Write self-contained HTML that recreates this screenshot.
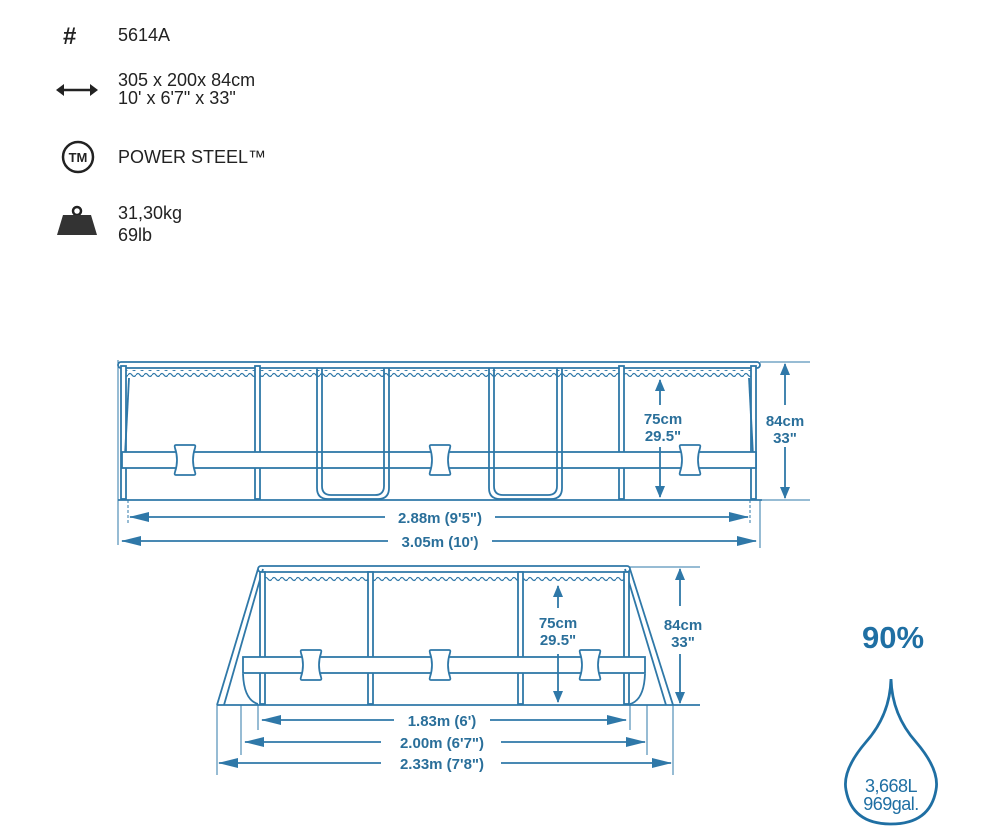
<!DOCTYPE html>
<html><head><meta charset="utf-8"><style>
body{margin:0;background:#fff;width:993px;height:839px;overflow:hidden}
svg{display:block}
.t{font-family:"Liberation Sans",sans-serif;fill:#222;font-size:18px}
.b{font-family:"Liberation Sans",sans-serif;font-weight:bold;fill:#2a6f9a;font-size:15px;text-anchor:middle}
</style></head><body>
<svg width="993" height="839" viewBox="0 0 993 839">
<defs>
<pattern id="wv" x="0" y="0" width="8" height="6" patternUnits="userSpaceOnUse">
<path d="M0 3 Q2 0 4 3 T8 3" fill="none" stroke="#2f78a8" stroke-width="1.2"/>
</pattern>
<marker id="ar" markerWidth="12" markerHeight="10" refX="11" refY="5" orient="auto" markerUnits="userSpaceOnUse"><path d="M0 0 L12 5 L0 10Z" fill="#2f78a8"/></marker>
<marker id="al" markerWidth="12" markerHeight="10" refX="1" refY="5" orient="auto" markerUnits="userSpaceOnUse"><path d="M12 0 L0 5 L12 10Z" fill="#2f78a8"/></marker>
<marker id="hr" markerWidth="20" markerHeight="10" refX="19" refY="5" orient="auto" markerUnits="userSpaceOnUse"><path d="M0 0 L20 5 L0 10Z" fill="#2f78a8"/></marker>
<marker id="hl" markerWidth="20" markerHeight="10" refX="1" refY="5" orient="auto" markerUnits="userSpaceOnUse"><path d="M20 0 L0 5 L20 10Z" fill="#2f78a8"/></marker>
<g id="bone"><path d="M-9 -15 H9 Q11 -15 10 -12 Q6 0 10 12 Q11 15 9 15 H-9 Q-11 15 -10 12 Q-6 0 -10 -12 Q-11 -15 -9 -15Z" fill="#fff" stroke="#2f78a8" stroke-width="1.8"/></g>
</defs>

<!-- header -->
<text x="63" y="44" style="font-family:'Liberation Sans',sans-serif;font-weight:bold;font-size:24px;fill:#222">#</text>
<text class="t" x="118" y="41">5614A</text>
<line x1="60" y1="90" x2="94" y2="90" stroke="#222" stroke-width="2.5"/>
<path d="M56 90 L64 84 L64 96Z M98 90 L90 84 L90 96Z" fill="#222"/>
<text class="t" x="118" y="86">305 x 200x 84cm</text>
<text class="t" x="118" y="104">10' x 6'7" x 33"</text>
<circle cx="78" cy="157" r="15" fill="none" stroke="#222" stroke-width="2.5"/>
<text x="78" y="162" text-anchor="middle" style="font-family:'Liberation Sans',sans-serif;font-weight:bold;font-size:13px;fill:#222">TM</text>
<text class="t" x="118" y="163">POWER STEEL™</text>
<circle cx="77" cy="211" r="4" fill="none" stroke="#222" stroke-width="2.5"/>
<path d="M63 215 H91 L97 235 H57Z" fill="#333"/>
<text class="t" x="118" y="219">31,30kg</text>
<text class="t" x="118" y="241">69lb</text>

<g stroke="#2f78a8" stroke-width="1.8" fill="none">
<!-- TOP POOL -->
<rect x="122" y="370" width="632" height="7" fill="url(#wv)" stroke="none"/>
<rect x="118" y="362" width="642" height="6" rx="3" fill="#fff"/>
<line x1="118" y1="500" x2="762" y2="500"/>
<line x1="118" y1="360" x2="118" y2="545" stroke-width="1"/>
<line x1="760" y1="362" x2="810" y2="362" stroke-width="1"/>
<line x1="760" y1="500" x2="810" y2="500" stroke-width="1"/>
<line x1="760" y1="500" x2="760" y2="548" stroke-width="1"/>
<line x1="128" y1="500" x2="128" y2="525" stroke-width="1" stroke-dasharray="3 2"/>
<line x1="750" y1="500" x2="750" y2="525" stroke-width="1" stroke-dasharray="3 2"/>
<rect x="121" y="366" width="5" height="133" fill="#fff"/>
<rect x="751" y="366" width="5" height="133" fill="#fff"/>
<rect x="255" y="366" width="5" height="133" fill="#fff"/>
<rect x="619" y="366" width="5" height="133" fill="#fff"/>
<line x1="129" y1="378" x2="125" y2="455"/>
<line x1="749" y1="378" x2="753" y2="455"/>
<rect x="122" y="452" width="634" height="16" fill="#fff"/>
<use href="#bone" x="185" y="460"/>
<use href="#bone" x="440" y="460"/>
<use href="#bone" x="690" y="460"/>
<path d="M317 368 V488 Q317 499 328 499 H378 Q389 499 389 488 V368" />
<path d="M322 368 V486 Q322 495 331 495 H375 Q384 495 384 486 V368" />
<path d="M489 368 V488 Q489 499 500 499 H551 Q562 499 562 488 V368" />
<path d="M494 368 V486 Q494 495 503 495 H548 Q557 495 557 486 V368" />
<line x1="660" y1="380" x2="660" y2="405" marker-start="url(#al)"/>
<line x1="660" y1="447" x2="660" y2="497" marker-end="url(#ar)"/>
<line x1="785" y1="364" x2="785" y2="405" marker-start="url(#al)"/>
<line x1="785" y1="447" x2="785" y2="498" marker-end="url(#ar)"/>
<line x1="130" y1="517" x2="385" y2="517" marker-start="url(#hl)"/>
<line x1="495" y1="517" x2="748" y2="517" marker-end="url(#hr)"/>
<line x1="122" y1="541" x2="388" y2="541" marker-start="url(#hl)"/>
<line x1="492" y1="541" x2="756" y2="541" marker-end="url(#hr)"/>

<!-- BOTTOM POOL -->
<rect x="262" y="576" width="366" height="6" fill="url(#wv)" stroke="none"/>
<rect x="258" y="566" width="372" height="6" rx="3" fill="#fff"/>
<line x1="217" y1="705" x2="700" y2="705"/>
<line x1="630" y1="567" x2="700" y2="567" stroke-width="1"/>
<line x1="258" y1="569" x2="217" y2="705"/>
<line x1="263" y1="569" x2="224" y2="705"/>
<line x1="630" y1="569" x2="673" y2="705"/>
<line x1="625" y1="569" x2="666" y2="705"/>
<rect x="260" y="572" width="5" height="132" fill="#fff"/>
<rect x="368" y="572" width="5" height="132" fill="#fff"/>
<rect x="518" y="572" width="5" height="132" fill="#fff"/>
<rect x="624" y="572" width="5" height="132" fill="#fff"/>
<path d="M243 674 Q244 700 258 704" />
<path d="M645 674 Q644 700 630 704" />
<rect x="243" y="657" width="402" height="16" fill="#fff"/>
<use href="#bone" x="311" y="665"/>
<use href="#bone" x="440" y="665"/>
<use href="#bone" x="590" y="665"/>
<line x1="217" y1="705" x2="217" y2="775" stroke-width="1"/>
<line x1="673" y1="705" x2="673" y2="775" stroke-width="1"/>
<line x1="241" y1="705" x2="241" y2="755" stroke-width="1"/>
<line x1="647" y1="705" x2="647" y2="755" stroke-width="1"/>
<line x1="258" y1="705" x2="258" y2="730" stroke-width="1"/>
<line x1="630" y1="705" x2="630" y2="730" stroke-width="1"/>
<line x1="558" y1="586" x2="558" y2="608" marker-start="url(#al)"/>
<line x1="558" y1="654" x2="558" y2="702" marker-end="url(#ar)"/>
<line x1="680" y1="569" x2="680" y2="606" marker-start="url(#al)"/>
<line x1="680" y1="654" x2="680" y2="703" marker-end="url(#ar)"/>
<line x1="262" y1="720" x2="394" y2="720" marker-start="url(#hl)"/>
<line x1="490" y1="720" x2="626" y2="720" marker-end="url(#hr)"/>
<line x1="245" y1="742" x2="381" y2="742" marker-start="url(#hl)"/>
<line x1="501" y1="742" x2="645" y2="742" marker-end="url(#hr)"/>
<line x1="219" y1="763" x2="381" y2="763" marker-start="url(#hl)"/>
<line x1="501" y1="763" x2="671" y2="763" marker-end="url(#hr)"/>
</g>
<text class="b" x="663" y="424">75cm</text>
<text class="b" x="663" y="441">29.5"</text>
<text class="b" x="785" y="426">84cm</text>
<text class="b" x="785" y="443">33"</text>
<text class="b" x="440" y="523">2.88m (9'5")</text>
<text class="b" x="440" y="547">3.05m (10')</text>
<text class="b" x="558" y="628">75cm</text>
<text class="b" x="558" y="645">29.5"</text>
<text class="b" x="683" y="630">84cm</text>
<text class="b" x="683" y="647">33"</text>
<text class="b" x="442" y="726">1.83m (6')</text>
<text class="b" x="442" y="748">2.00m (6'7")</text>
<text class="b" x="442" y="769">2.33m (7'8")</text>

<!-- drop -->
<text x="893" y="648" text-anchor="middle" style="font-family:'Liberation Sans',sans-serif;font-weight:bold;font-size:31px;fill:#1f6fa3">90%</text>
<path d="M891 679 Q890 715 866 742 Q842 770 846 790 Q852 824 891 824 Q930 824 936 790 Q940 770 916 742 Q892 715 891 679Z" fill="none" stroke="#1f6fa3" stroke-width="2.8"/>
<text x="891" y="792" text-anchor="middle" style="font-family:'Liberation Sans',sans-serif;font-size:18px;fill:#1f6fa3;letter-spacing:-0.5px">3,668L</text>
<text x="891" y="810" text-anchor="middle" style="font-family:'Liberation Sans',sans-serif;font-size:18px;fill:#1f6fa3;letter-spacing:-0.5px">969gal.</text>
</svg>
</body></html>
